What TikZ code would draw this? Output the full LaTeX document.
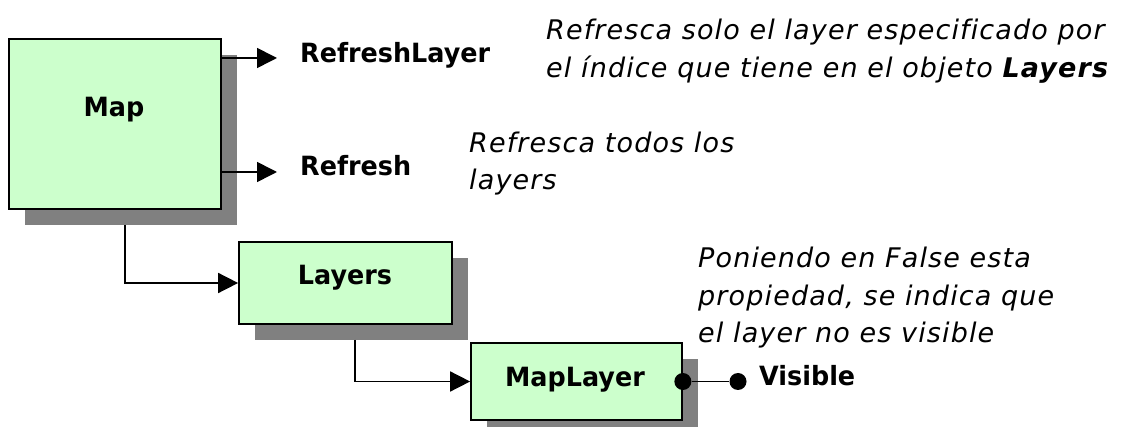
\documentclass[tikz,border=0pt]{standalone}
\usepackage{fontspec}
\setmainfont{DejaVu Sans}[
  BoldFont={DejaVu Sans Bold},
  ItalicFont={DejaVu Sans Oblique},
  BoldItalicFont={DejaVu Sans Bold Oblique},
  BoldFeatures={FakeStretch=0.96},
  ItalicFeatures={LetterSpace=4.2,Ligatures=NoCommon},
  BoldItalicFeatures={LetterSpace=4.2,Ligatures=NoCommon}]
\usetikzlibrary{arrows.meta,shadows}
\definecolor{boxgreen}{HTML}{CCFFCC}
\definecolor{shadowgray}{HTML}{808080}
\begin{document}
\begin{tikzpicture}[x=1pt,y=-1pt,
  classbox/.style={draw=black,line width=1.7pt,fill=boxgreen,inner sep=0pt,
    drop shadow={shadow xshift=16pt,shadow yshift=-16pt,fill=shadowgray,opacity=1}},
  link/.style={line width=1.6pt,-{Triangle[length=20pt,width=20pt]}},
  plain/.style={line width=1.6pt},
  dot/.style={circle,fill=black,inner sep=0pt,minimum size=17pt},
  title/.style={font=\fontsize{26.5}{30}\selectfont\bfseries,anchor=base,inner sep=0pt},
  member/.style={font=\fontsize{26.5}{30}\selectfont\bfseries,anchor=base west,inner sep=0pt},
  note/.style={font=\fontsize{27}{37}\selectfont\itshape,anchor=base west,inner sep=0pt},
]
\useasboundingbox (0,0) rectangle (1122,427);

% class boxes
\node[classbox,minimum width=212pt,minimum height=170pt] (map) at (115,124) {};
\node[classbox,minimum width=213pt,minimum height=82pt] (layers) at (345.5,283) {};
\node[classbox,minimum width=211pt,minimum height=77pt] (maplayer) at (576.5,381.5) {};

\node[title] (maptitle) at (114,117) {Map};
\node[title] (layerstitle) at (345,284.5) {Layers};
\node[title] (maplayertitle) at (575,387) {MapLayer};

% members
\node[member] (refreshlayer) at (300,62.5) {RefreshLayer};
\node[member] (refresh) at (300,175.5) {Refresh};
\node[member] (visible) at (759,385.5) {Visible};

\coordinate (refreshlayer-in) at (277,58);
\coordinate (refresh-in) at (277,172);
\coordinate (map-out) at (125,225);
\coordinate (layers-out) at (355,340);

% method arrows
\draw[link] (map.east |- refreshlayer-in) -- (refreshlayer-in);
\draw[link] (map.east |- refresh-in) -- (refresh-in);

% containment links
\draw[link] (map-out) |- (layers.west);
\draw[link] (layers-out) |- (maplayer.west);

% property
\node[dot] (propstart) at (maplayer.east) {};
\node[dot] (propend) at (738,381.5) {};
\draw[plain] (propstart) -- (propend);

% notes
\node[note] (noteA1) at (546,40) {Refresca solo el layer especificado por};
\node[note] (noteA2) at (546,77.5) {el índice que tiene en el objeto \textbf{Layers}};
\node[note] (noteB1) at (469,153) {Refresca todos los};
\node[note] (noteB2) at (469,190) {layers};
\node[note] (noteC1) at (698,268) {Poniendo en False esta};
\node[note] (noteC2) at (698,305.5) {propiedad, se indica que};
\node[note] (noteC3) at (698,343) {el layer no es visible};
\end{tikzpicture}
\end{document}
